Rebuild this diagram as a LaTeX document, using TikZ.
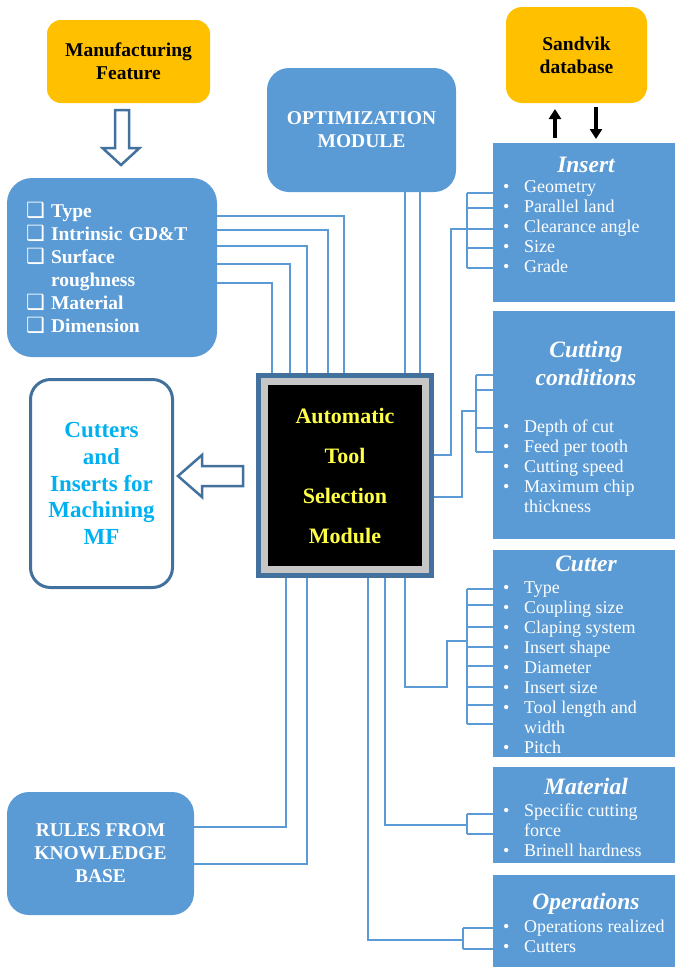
\documentclass[tikz,border=0pt]{standalone}
\usepackage{fontspec}
\setmainfont{Liberation Serif}
\newfontfamily\symfont{DejaVu Sans}
\usetikzlibrary{arrows.meta}
\definecolor{bleu}{RGB}{91,155,213}
\definecolor{bleufonce}{RGB}{65,113,156}
\definecolor{orangeb}{RGB}{255,192,0}
\definecolor{cyanb}{RGB}{0,176,240}
\definecolor{jaune}{RGB}{255,255,70}
\newcommand{\carre}{\makebox[25pt][l]{\symfont\fontsize{21}{21}\selectfont ❑}}
\newcommand{\puce}{\makebox[21pt][l]{•}}
\tikzset{
  boite/.style={fill=bleu, text=white, rounded corners=22pt, outer sep=0pt, align=center,
    font=\fontsize{19.5}{23}\selectfont\bfseries},
  boiteor/.style={fill=orangeb, text=black, rounded corners=14pt, outer sep=0pt, align=center,
    font=\fontsize{19.5}{23}\selectfont\bfseries},
  rect/.style={fill=bleu, outer sep=0pt, minimum width=182pt},
  titre/.style={text=white, align=center, font=\fontsize{23.5}{28}\selectfont\bfseries\itshape},
  liste/.style={text=white, anchor=west, inner sep=0pt, align=left, font=\fontsize{18}{20}\selectfont},
  lien/.style={draw=bleu, line width=2.2pt},
  fleche/.style={line width=3.5pt, -{Triangle[length=10pt,width=12pt]}},
  creuse/.style={draw=bleufonce, line width=2.5pt, fill=white, line join=miter}
}
\begin{document}
\begin{tikzpicture}[x=1pt,y=-1pt]
    \useasboundingbox (0,0) rectangle (675,967);
    % colonne de gauche
    \node[boiteor, minimum width=163pt, minimum height=83pt] (mf) at (128.5,61.5) {Manufacturing\\Feature};
    \draw[creuse] (115,110) -- (129,110) -- (129,148) -- (139.5,148) -- (121,165) -- (102.5,148) -- (115,148) -- cycle;
    \node[boite, rounded corners=25pt, minimum width=210pt, minimum height=179pt, text width=172pt, align=left] (feat) at (112,267.5)
        {\carre Type\\ \carre Intrinsic GD\&T\\ \carre Surface\\ \hspace*{25pt}roughness\\ \carre Material\\ \carre Dimension};
    \node[draw=bleufonce, line width=3pt, fill=white, rounded corners=20pt, minimum width=142pt, minimum height=208pt, outer sep=0pt,
        text=cyanb, align=center, font=\fontsize{23}{26.8}\selectfont\bfseries] (sortie) at (101.5,483.5)
        {Cutters\\and\\Inserts for\\Machining\\MF};
    \draw[creuse] (243,466) -- (202,466) -- (202,455) -- (178,476) -- (202,497) -- (202,486) -- (243,486) -- cycle;
    \node[boite, minimum width=187pt, minimum height=123pt] (regles) at (100.5,853.5) {RULES FROM\\KNOWLEDGE\\BASE};
    % module central
    \node[boite, minimum width=189pt, minimum height=124pt] (opt) at (361.5,130) {OPTIMIZATION\\MODULE};
    \node[fill=bleufonce, minimum width=178pt, minimum height=205pt, outer sep=0pt] (ctr) at (345,475.5) {};
    \node[fill=black, draw=gray!45, line width=7pt, minimum width=161pt, minimum height=188pt, text=jaune, align=center,
        font=\fontsize{22}{40}\selectfont\bfseries] (ctrtxt) at (ctr) {Automatic\\Tool\\Selection\\Module};
    % colonne de droite
    \node[boiteor, rounded corners=16pt, minimum width=141pt, minimum height=96pt] (sand) at (576.5,55) {Sandvik\\database};
    \node[rect, minimum height=159pt] (ins) at (584,222.5) {};
    \node[titre] (insT) at (586,165) {Insert};
    \node[liste] (insL) at (503,227) {\puce Geometry\\ \puce Parallel land\\ \puce Clearance angle\\ \puce Size\\ \puce Grade};
    \node[rect, minimum height=228pt] (cc) at (584,425) {};
    \node[titre] (ccT) at (586,363) {Cutting\\conditions};
    \node[liste] (ccL) at (503,466) {\puce Depth of cut\\ \puce Feed per tooth\\ \puce Cutting speed\\ \puce Maximum chip\\ \hspace*{21pt}thickness};
    \node[rect, minimum height=207pt] (cut) at (584,653.5) {};
    \node[titre] (cutT) at (586,564) {Cutter};
    \node[liste] (cutL) at (503,667.5) {\puce Type\\ \puce Coupling size\\ \puce Claping system\\ \puce Insert shape\\ \puce Diameter\\
        \puce Insert size\\ \puce Tool length and\\ \hspace*{21pt}width\\ \puce Pitch};
    \node[rect, minimum height=96pt] (mat) at (584,815) {};
    \node[titre] (matT) at (586,786) {Material};
    \node[liste] (matL) at (503,830) {\puce Specific cutting\\ \hspace*{21pt}force\\ \puce Brinell hardness};
    \node[rect, minimum height=92pt] (ope) at (584,921) {};
    \node[titre] (opeT) at (586,904) {Operations};
    \node[liste] (opeL) at (503,936) {\puce Operations realized\\ \puce Cutters};
    % fleches Sandvik
    \draw[fleche, shorten <=5pt, shorten >=6pt] (ins.north -| 555,0) -- (sand.south -| 555,0);
    \draw[fleche, shorten <=4pt, shorten >=4pt] (sand.south -| 596,0) -- (ins.north -| 596,0);
    % liaisons vers le module
    \foreach \y/\x in {216/344, 230/328, 246/307, 264/290, 283/272}
        \draw[lien] (feat.east |- 0,\y) -| (ctr.north -| \x,0);
    \foreach \x in {405,420}
        \draw[lien] (opt.south -| \x,0) -- (ctr.north -| \x,0);
    \draw[lien] (regles.east |- 0,827) -| (ctr.south -| 286,0);
    \draw[lien] (regles.east |- 0,864) -| (ctr.south -| 307,0);
    % Insert
    \draw[lien] (ctr.east |- 0,455) -| (451,229) -- (467,229);
    \draw[lien] (467,193) -- (467,268);
    \foreach \y in {193,208,229,248,268}
        \draw[lien] (467,\y) -- (ins.west |- 0,\y);
    % Cutting conditions
    \draw[lien] (ctr.east |- 0,497) -| (462,411) -- (476,411);
    \draw[lien] (476,375) -- (476,452);
    \foreach \y in {375,390,428,452}
        \draw[lien] (476,\y) -- (cc.west |- 0,\y);
    % Cutter
    \draw[lien] (ctr.south -| 405,0) |- (447,687) -- (447,641) -- (467,641);
    \draw[lien] (467,589) -- (467,724);
    \foreach \y in {589,605,627,647,666,687,705,724}
        \draw[lien] (467,\y) -- (cut.west |- 0,\y);
    % Material
    \draw[lien] (ctr.south -| 385,0) |- (467,825);
    \draw[lien] (467,814) -- (467,834);
    \foreach \y in {814,834}
        \draw[lien] (467,\y) -- (mat.west |- 0,\y);
    % Operations
    \draw[lien] (ctr.south -| 368,0) |- (463,940);
    \draw[lien] (463,928) -- (463,949);
    \foreach \y in {928,949}
        \draw[lien] (463,\y) -- (ope.west |- 0,\y);
\end{tikzpicture}
\end{document}
